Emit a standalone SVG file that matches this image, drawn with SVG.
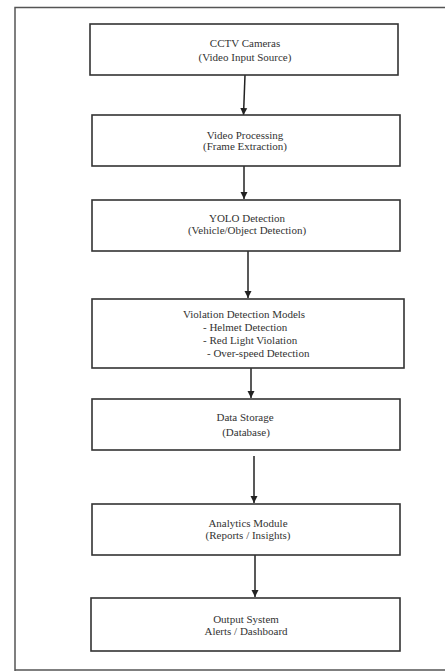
<svg xmlns="http://www.w3.org/2000/svg" width="445" height="671" viewBox="0 0 445 671">
<style>
.frame{fill:none;stroke:#555;stroke-width:1.5}
.box{fill:#fff;stroke:#333;stroke-width:1.6}
.t{font-family:"Liberation Serif","Times New Roman",serif;font-size:11px;fill:#333;text-anchor:middle}
.tl{font-family:"Liberation Serif","Times New Roman",serif;font-size:11px;fill:#333}
.c{stroke:#222;stroke-width:1.5;fill:none;marker-end:url(#ah)}
</style>
<defs>
<marker id="ah" markerWidth="8" markerHeight="8" refX="7" refY="4" orient="auto" markerUnits="userSpaceOnUse">
<path d="M0,0.5 L7,4 L0,7.5 Z" fill="#222"/>
</marker>
</defs>
<rect width="445" height="671" fill="#fff"/>
<g id="frame">
<path class="frame" d="M445,7.5 H15 V671"/>
<path class="frame" d="M15,670 H445"/>
</g>
<g id="connectors">
<line class="c" x1="245" y1="75" x2="243.5" y2="115"/>
<line class="c" x1="244" y1="166" x2="244" y2="199"/>
<line class="c" x1="248" y1="251" x2="248" y2="298"/>
<line class="c" x1="251" y1="368" x2="251" y2="398"/>
<line class="c" x1="254" y1="456" x2="254" y2="503"/>
<line class="c" x1="255" y1="555" x2="255" y2="597"/>
</g>
<g id="n1">
<rect class="box" x="90" y="24" width="308" height="51"/>
<text class="t" x="245" y="47">CCTV Cameras</text>
<text class="t" x="245" y="61">(Video Input Source)</text>
</g>
<g id="n2">
<rect class="box" x="92" y="115" width="308" height="51"/>
<text class="t" x="245" y="139">Video Processing</text>
<text class="t" x="245" y="150">(Frame Extraction)</text>
</g>
<g id="n3">
<rect class="box" x="92" y="200" width="308" height="51"/>
<text class="t" x="247" y="222">YOLO Detection</text>
<text class="t" x="247" y="234">(Vehicle/Object Detection)</text>
</g>
<g id="n4">
<rect class="box" x="92" y="299" width="312" height="69"/>
<text class="tl" x="183" y="318">Violation Detection Models</text>
<text class="tl" x="203" y="331">- Helmet Detection</text>
<text class="tl" x="203" y="344">- Red Light Violation</text>
<text class="tl" x="207" y="357">- Over-speed Detection</text>
</g>
<g id="n5">
<rect class="box" x="92" y="399" width="308" height="51"/>
<text class="t" x="245" y="421">Data Storage</text>
<text class="t" x="246" y="436">(Database)</text>
</g>
<g id="n6">
<rect class="box" x="92" y="504" width="308" height="51"/>
<text class="t" x="248" y="527">Analytics Module</text>
<text class="t" x="248" y="539">(Reports / Insights)</text>
</g>
<g id="n7">
<rect class="box" x="91" y="598" width="309" height="53"/>
<text class="t" x="246" y="623">Output System</text>
<text class="t" x="246" y="635">Alerts / Dashboard</text>
</g>
</svg>
